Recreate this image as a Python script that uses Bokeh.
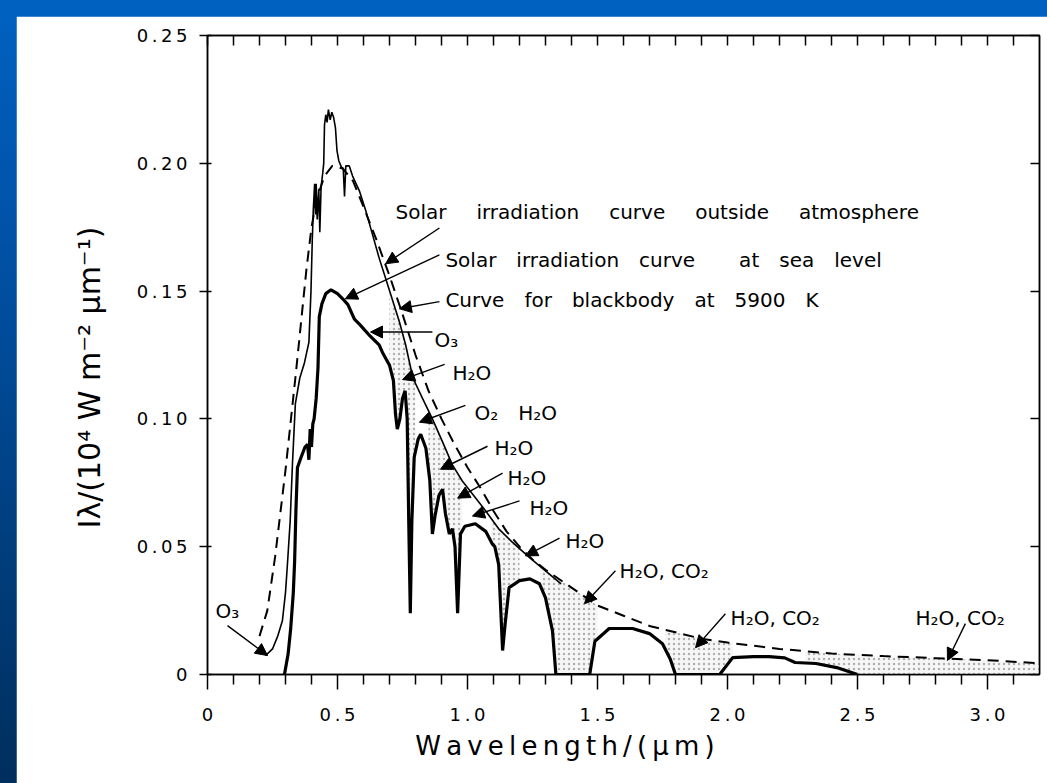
import numpy as np
from bokeh.plotting import figure
from bokeh.models import (Range1d, LinearAxis, FixedTicker, Arrow, NormalHead,
                          ColumnDataSource, Div)
from bokeh.layouts import column, row
from bokeh.core.properties import value
from bokeh.embed import file_html
from bokeh.resources import INLINE

FONT = "DejaVu Sans"
TH = "\u2009"    # thin space (letter spacing of the scanned lettering)
EM = "\u2003"
EN = "\u2002"

# ---------------- data ----------------
# Curve for blackbody at 5900 K (dashed)
bb_x = [0.20, 0.23, 0.26, 0.28, 0.30, 0.32, 0.34, 0.36, 0.38, 0.40, 0.42, 0.45, 0.48,
        0.52, 0.56, 0.60, 0.65, 0.70, 0.75, 0.80, 0.85, 0.90, 0.95, 1.00, 1.05, 1.10,
        1.15, 1.20, 1.25, 1.30, 1.40, 1.50, 1.60, 1.70, 1.80, 1.90, 2.00, 2.20, 2.40,
        2.60, 2.80, 3.00, 3.20]
bb_y = [0.015, 0.025, 0.046, 0.063, 0.080, 0.099, 0.118, 0.138, 0.158, 0.175, 0.186,
        0.195, 0.199, 0.198, 0.193, 0.183, 0.170, 0.156, 0.141, 0.125, 0.111, 0.100,
        0.090, 0.081, 0.073, 0.064, 0.056, 0.050, 0.045, 0.041, 0.034, 0.027, 0.023,
        0.019, 0.0165, 0.014, 0.0125, 0.0100, 0.0082, 0.0072, 0.0064, 0.0056, 0.0044]

# Solar irradiation curve outside atmosphere (thin solid)
out_x = [0.223, 0.25, 0.27, 0.288, 0.30, 0.308, 0.318, 0.327, 0.338, 0.355, 0.373,
         0.390, 0.398, 0.403, 0.407, 0.412, 0.415, 0.418, 0.422, 0.428, 0.432, 0.437,
         0.443, 0.447, 0.450, 0.455, 0.460, 0.465, 0.472, 0.478, 0.485, 0.492, 0.498,
         0.505, 0.515, 0.522, 0.527, 0.532, 0.545, 0.558, 0.585, 0.61, 0.635, 0.66,
         0.685, 0.71, 0.738, 0.762, 0.79, 0.827, 0.865, 0.904, 0.942, 0.98, 1.02,
         1.07, 1.12, 1.17, 1.24, 1.30, 1.36]
out_y = [0.0074, 0.010, 0.015, 0.021, 0.032, 0.044, 0.060, 0.083, 0.106, 0.116, 0.122,
         0.130, 0.150, 0.170, 0.182, 0.192, 0.180, 0.192, 0.178, 0.190, 0.173, 0.191,
         0.196, 0.200, 0.215, 0.219, 0.216, 0.221, 0.217, 0.220, 0.218, 0.214, 0.205,
         0.201, 0.1985, 0.198, 0.187, 0.199, 0.199, 0.195, 0.189, 0.181, 0.172, 0.163,
         0.155, 0.147, 0.138, 0.129, 0.116, 0.108, 0.100, 0.091, 0.082, 0.0757, 0.0705,
         0.064, 0.057, 0.052, 0.0456, 0.0405, 0.0355]

# Solar irradiation curve at sea level (thick solid)
sea_x = [0.296, 0.31, 0.32, 0.33, 0.335, 0.34, 0.346, 0.36, 0.375, 0.385, 0.39, 0.395,
         0.40, 0.405, 0.41, 0.418, 0.425, 0.43, 0.44, 0.455, 0.475, 0.50, 0.52, 0.54,
         0.565, 0.585, 0.62, 0.66, 0.673, 0.70, 0.715, 0.723, 0.73, 0.74, 0.75, 0.76,
         0.768, 0.774, 0.78, 0.786, 0.795, 0.81, 0.82, 0.84, 0.855, 0.865, 0.875, 0.89,
         0.904, 0.915, 0.93, 0.942, 0.952, 0.962, 0.973, 0.99, 1.03, 1.07, 1.096, 1.105,
         1.12, 1.135, 1.145, 1.16, 1.20, 1.24, 1.277, 1.30, 1.327, 1.34, 1.40, 1.46,
         1.47, 1.49, 1.545, 1.635, 1.70, 1.75, 1.78, 1.80, 1.97, 2.02, 2.10, 2.16, 2.22,
         2.26, 2.34, 2.42, 2.50]
sea_y = [0.0, 0.008, 0.018, 0.032, 0.044, 0.064, 0.081, 0.085, 0.089, 0.090, 0.084,
         0.096, 0.089, 0.098, 0.100, 0.108, 0.120, 0.140, 0.145, 0.149, 0.1505, 0.149,
         0.147, 0.1447, 0.139, 0.137, 0.133, 0.129, 0.126, 0.121, 0.115, 0.102, 0.096,
         0.100, 0.108, 0.111, 0.100, 0.060, 0.024, 0.060, 0.085, 0.092, 0.094, 0.0885,
         0.076, 0.055, 0.062, 0.070, 0.0725, 0.063, 0.055, 0.057, 0.050, 0.024, 0.055,
         0.058, 0.059, 0.056, 0.051, 0.050, 0.043, 0.0094, 0.020, 0.034, 0.0367, 0.0374,
         0.0355, 0.030, 0.017, 0.0, 0.0, 0.0, 0.0, 0.013, 0.018, 0.018, 0.016, 0.012,
         0.006, 0.0, 0.0, 0.0066, 0.007, 0.007, 0.0065, 0.0047, 0.0043, 0.0027, 0.0]

# absorption bands shaded (wavelength intervals)
band_lo = [0.70, 0.85, 1.09, 1.28, 1.76, 2.30]
band_hi = [0.80, 0.98, 1.20, 1.50, 2.02, 3.20]

# annotation texts (label position) and arrows (start -> tip)
lab_text = [(EM + EN).join(["Solar", "irradiation", "curve", "outside", "atmosphere"]),
            EM.join(["Solar", "irradiation", "curve" + EM + TH, "at", "sea", "level"]),
            EM.join(["Curve", "for", "blackbody", "at", "5900", "K"]),
            "O₃", "H₂O", "O₂" + EM + "H₂O", "H₂O", "H₂O", "H₂O", "H₂O",
            "H₂O, CO₂", "H₂O, CO₂", "H₂O, CO₂", "O₃"]
lab_x = [0.723, 0.915, 0.915, 0.873, 0.942, 1.027, 1.104, 1.154, 1.238, 1.377,
         1.585, 2.012, 2.723, 0.031]
lab_y = [0.181, 0.1622, 0.1466, 0.131, 0.1178, 0.1022, 0.0885, 0.0768, 0.0651, 0.0523,
         0.0406, 0.0222, 0.0222, 0.025]

arr_x0 = [0.892, 0.892, 0.892, 0.865, 0.912, 0.992, 1.077, 1.135, 1.200, 1.354,
          1.569, 1.992, 2.915, 0.077]
arr_y0 = [0.1747, 0.1642, 0.1459, 0.134, 0.1213, 0.1053, 0.0893, 0.0788, 0.0679, 0.0534,
          0.0406, 0.0238, 0.0199, 0.0191]
arr_x1 = [0.685, 0.530, 0.738, 0.627, 0.750, 0.815, 0.896, 0.962, 1.019, 1.223,
          1.450, 1.877, 2.846, 0.231]
arr_y1 = [0.1607, 0.1470, 0.1431, 0.134, 0.1154, 0.0987, 0.0803, 0.0690, 0.0620, 0.0464,
          0.0277, 0.0105, 0.0055, 0.0074]

x_major = [0.0, 0.5, 1.0, 1.5, 2.0, 2.5, 3.0]
x_major_labels = ["0", "0.5", "1.0", "1.5", "2.0", "2.5", "3.0"]
x_minor = [0.1, 0.2, 0.3, 0.4, 0.6, 0.7, 0.8, 0.9, 1.1, 1.2, 1.3, 1.4, 1.6, 1.7, 1.8,
           1.9, 2.1, 2.2, 2.3, 2.4, 2.6, 2.7, 2.8, 2.9, 3.1]
y_major = [0.0, 0.05, 0.10, 0.15, 0.20, 0.25]
y_major_labels = ["0", "0.05", "0.10", "0.15", "0.20", "0.25"]
x_title = "Wavelength/(μm)"
y_title = "Iλ/(10⁴ W m⁻² μm⁻¹)"


def spaced(s):
    return TH.join(list(s))


# ---------------- figure ----------------
p = figure(width=1031, height=767, x_range=Range1d(0, 3.2), y_range=Range1d(0, 0.25),
           output_backend="svg", toolbar_location=None,
           min_border_left=191, min_border_right=8, min_border_top=19,
           min_border_bottom=109, background_fill_color="white",
           border_fill_color="white")
p.grid.visible = False
p.outline_line_color = "black"
p.outline_line_width = 1.5

# shaded absorption bands
bx = np.linspace(0.2, 3.2, 1501)
upper_curve = np.where(bx <= 1.30, np.interp(bx, out_x, out_y), np.interp(bx, bb_x, bb_y))
lower_curve = np.interp(bx, sea_x, sea_y, left=0.0, right=0.0)
for lo, hi in zip(band_lo, band_hi):
    m = (bx >= lo) & (bx <= hi)
    src = ColumnDataSource(dict(x=bx[m], y1=lower_curve[m],
                                y2=np.maximum(upper_curve[m], lower_curve[m])))
    p.varea(x="x", y1="y1", y2="y2", source=src, fill_color="#f6f6f6",
            hatch_pattern="dot", hatch_color="#b0b0b0", hatch_scale=5, hatch_weight=1)

p.line(bb_x, bb_y, line_color="black", line_width=2.0, line_dash="11 7")
p.line(out_x, out_y, line_color="black", line_width=1.6)
p.line(sea_x, sea_y, line_color="black", line_width=3.2)

# arrows
asrc = ColumnDataSource(dict(x0=arr_x0, y0=arr_y0, x1=arr_x1, y1=arr_y1))
p.add_layout(Arrow(end=NormalHead(size=12, fill_color="black", line_color="black"),
                   x_start="x0", y_start="y0", x_end="x1", y_end="y1", source=asrc,
                   line_color="black", line_width=1.4))

# texts
tsrc = ColumnDataSource(dict(x=lab_x, y=lab_y, t=lab_text))
p.text(x="x", y="y", text="t", source=tsrc, text_font=value(FONT),
       text_font_size="20px", text_align="left", text_baseline="middle",
       text_color="black")

# axes
for ax in (p.xaxis, p.yaxis):
    ax.axis_line_width = 1.5
    ax.major_tick_line_width = 1.5
    ax.minor_tick_line_width = 1.5
    ax.major_label_text_font = FONT
    ax.major_label_text_font_size = "18px"
    ax.major_label_text_color = "black"

p.xaxis.ticker = FixedTicker(ticks=x_major, minor_ticks=x_minor)
p.xaxis.major_label_overrides = {k: spaced(v) for k, v in zip(x_major, x_major_labels)}
p.xaxis.major_tick_in = 0
p.xaxis.major_tick_out = 15
p.xaxis.minor_tick_in = 0
p.xaxis.minor_tick_out = 10
p.xaxis.major_label_standoff = 14
p.xaxis.axis_label = spaced(x_title) + EM * 4 + EN
p.xaxis.axis_label_text_font = FONT
p.xaxis.axis_label_text_font_size = "26px"
p.xaxis.axis_label_text_font_style = "normal"
p.xaxis.axis_label_text_color = "black"
p.xaxis.axis_label_standoff = 3

p.yaxis.ticker = FixedTicker(ticks=y_major, minor_ticks=[])
p.yaxis.major_label_overrides = {k: spaced(v) for k, v in zip(y_major, y_major_labels)}
p.yaxis.major_tick_in = 4
p.yaxis.major_tick_out = 8
p.yaxis.major_label_standoff = 12
p.yaxis.axis_label = y_title + EM + EN
p.yaxis.axis_label_text_font = FONT
p.yaxis.axis_label_text_font_size = "30px"
p.yaxis.axis_label_text_font_style = "normal"
p.yaxis.axis_label_text_color = "black"
p.yaxis.axis_label_standoff = 27

top_ax = LinearAxis(ticker=FixedTicker(ticks=[0.0] + x_minor + x_major[1:], minor_ticks=[]),
                    major_tick_in=10, major_tick_out=0, major_label_text_alpha=0,
                    major_label_text_font_size="1px", major_label_standoff=0,
                    axis_line_width=1.5, major_tick_line_width=1.5)
p.add_layout(top_ax, "above")
right_ax = LinearAxis(ticker=FixedTicker(ticks=y_major, minor_ticks=[]),
                      major_tick_in=9, major_tick_out=0, major_label_text_alpha=0,
                      major_label_text_font_size="1px", major_label_standoff=0,
                      axis_line_width=1.5, major_tick_line_width=1.5)
p.add_layout(right_ax, "right")

top_bar = Div(width=1045, height=14)
left_bar = Div(width=14, height=767)
layout = column(top_bar, row(left_bar, p),
                styles={"margin": "-8px",
                        "background": "linear-gradient(to bottom, #0062c2 0%, #0052a8 30%, #002e5c 100%)"})

open("out.html", "w").write(file_html(layout, INLINE))
